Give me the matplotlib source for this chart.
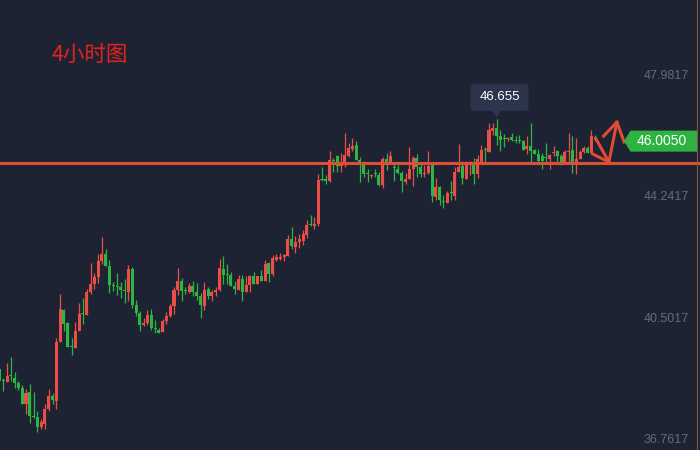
import numpy as np
import matplotlib
matplotlib.use('Agg')
import matplotlib.pyplot as plt
import matplotlib.transforms as mtransforms
from matplotlib.patches import Polygon, FancyBboxPatch

# 4h candles (red = up, green = down)
opens = [
    38.95, 38.60, 38.56, 38.74, 38.67, 38.52, 38.37, 37.88, 38.24, 37.49,
    37.47, 37.17, 37.26, 37.72, 38.12, 37.97, 39.78, 40.77, 40.37, 39.64,
    39.60, 40.12, 40.66, 40.62, 41.32, 41.57, 41.79, 42.28, 42.50, 42.13,
    41.52, 41.49, 41.48, 41.37, 41.32, 42.03, 40.92, 40.68, 40.31, 40.37,
    40.62, 40.19, 40.15, 40.09, 40.43, 40.58, 40.89, 41.38, 41.66, 41.36,
    41.32, 41.51, 41.32, 41.20, 40.89, 41.42, 41.20, 41.32, 41.38, 42.03,
    41.86, 41.85, 41.51, 41.38, 41.72, 41.32, 41.54, 41.82, 41.57, 41.82,
    41.66, 42.22, 41.88, 42.31, 42.34, 42.40, 42.43, 42.96, 42.71, 42.86,
    42.89, 43.08, 43.40, 43.36, 43.42, 44.79, 44.78, 44.76, 45.39, 45.52,
    45.21, 45.24, 45.52, 45.73, 45.85, 45.39, 45.24, 44.97, 44.90, 44.97,
    44.93, 44.62, 45.42, 45.33, 45.16, 45.12, 44.99, 44.71, 44.81, 45.11,
    45.45, 45.18, 44.96, 44.99, 45.24, 44.25, 44.56, 44.11, 44.07, 44.38,
    44.28, 45.02, 45.21, 44.81, 45.27, 45.24, 44.96, 45.29, 45.71, 45.65,
    46.30, 46.39, 46.13, 46.05, 46.03, 46.10, 46.00, 45.99, 45.98, 45.73,
    45.82, 45.70, 45.58, 45.51, 45.46, 45.42, 45.60, 45.67, 45.51, 45.34,
    45.64, 45.70, 45.33, 45.42, 45.64, 45.76, 45.61, 46.10,
]
highs = [
    38.97, 38.66, 39.13, 39.32, 38.86, 38.58, 38.46, 38.33, 38.49, 38.24,
    37.65, 37.41, 37.87, 38.33, 38.21, 39.91, 41.26, 40.80, 40.40, 39.91,
    40.40, 40.98, 41.14, 41.42, 42.22, 41.91, 42.50, 43.02, 42.65, 42.31,
    41.63, 41.91, 41.63, 41.72, 42.16, 42.09, 41.08, 40.74, 40.52, 40.77,
    40.80, 40.46, 40.21, 40.49, 40.71, 40.95, 41.48, 42.06, 41.76, 41.48,
    41.60, 41.66, 41.60, 41.29, 41.63, 41.48, 41.38, 41.48, 42.34, 42.43,
    42.19, 41.94, 41.66, 41.85, 41.85, 41.82, 41.85, 41.94, 41.83, 42.00,
    42.31, 42.25, 42.46, 42.49, 42.53, 42.49, 43.08, 43.33, 43.05, 43.11,
    43.23, 43.54, 43.70, 43.63, 44.96, 45.18, 44.93, 45.67, 45.45, 45.55,
    45.61, 46.22, 45.92, 46.07, 45.98, 45.48, 45.36, 45.11, 44.96, 45.11,
    45.02, 45.48, 45.61, 45.67, 45.33, 45.24, 45.05, 44.99, 45.79, 45.52,
    45.58, 45.27, 45.24, 45.67, 45.24, 44.84, 44.59, 44.31, 44.43, 44.74,
    45.18, 45.89, 45.36, 45.36, 45.36, 45.45, 45.55, 45.85, 45.80, 46.54,
    46.54, 46.655, 46.32, 46.19, 46.09, 46.22, 46.13, 46.16, 46.01, 46.13,
    46.53, 45.73, 45.73, 45.61, 45.92, 45.58, 45.82, 45.70, 45.58, 45.70,
    46.22, 46.13, 46.06, 45.70, 45.82, 45.82, 46.32, 46.16,
]
lows = [
    38.55, 38.28, 38.55, 38.58, 38.37, 38.30, 37.87, 37.56, 37.30, 37.45,
    37.01, 37.10, 37.10, 37.66, 37.88, 37.72, 39.78, 40.12, 39.62, 39.38,
    39.60, 40.12, 40.34, 40.62, 41.26, 41.42, 41.60, 42.19, 42.12, 41.29,
    41.35, 41.23, 41.14, 40.98, 41.05, 40.83, 40.58, 40.12, 40.27, 40.31,
    40.15, 40.06, 40.05, 40.09, 40.34, 40.56, 40.65, 41.23, 41.05, 41.26,
    41.29, 41.20, 41.08, 40.52, 40.77, 41.11, 41.05, 41.20, 41.35, 41.57,
    41.57, 41.50, 41.26, 41.38, 41.05, 41.32, 41.32, 41.56, 41.56, 41.65,
    41.66, 41.63, 41.82, 42.28, 42.31, 42.28, 42.43, 42.65, 42.53, 42.68,
    42.77, 42.99, 43.36, 43.27, 43.36, 44.74, 44.65, 44.71, 45.02, 45.02,
    45.02, 45.18, 45.48, 45.67, 45.39, 44.71, 44.87, 44.71, 44.84, 44.87,
    44.59, 44.53, 45.08, 45.30, 44.74, 44.96, 44.41, 44.65, 44.80, 44.59,
    44.87, 44.87, 44.87, 44.96, 44.10, 44.16, 44.00, 43.91, 44.06, 44.16,
    44.16, 45.02, 44.65, 44.80, 44.93, 44.65, 44.84, 45.29, 45.34, 45.65,
    46.16, 45.85, 45.67, 45.80, 45.98, 45.98, 45.92, 45.92, 45.70, 45.58,
    45.34, 45.58, 45.33, 45.13, 45.27, 45.13, 45.51, 45.33, 45.24, 45.33,
    45.33, 44.98, 44.95, 45.42, 45.61, 45.60, 45.60, 45.98,
]
closes = [
    38.58, 38.57, 38.73, 38.72, 38.52, 38.37, 37.88, 38.21, 37.50, 37.47,
    37.17, 37.32, 37.72, 38.12, 38.00, 39.78, 40.80, 40.34, 39.63, 39.62,
    40.12, 40.65, 40.64, 41.32, 41.57, 41.79, 42.28, 42.50, 42.13, 41.54,
    41.50, 41.47, 41.39, 41.35, 42.03, 40.92, 40.68, 40.31, 40.37, 40.62,
    40.21, 40.17, 40.06, 40.43, 40.58, 40.89, 41.38, 41.66, 41.35, 41.34,
    41.51, 41.32, 41.20, 40.92, 41.38, 41.20, 41.32, 41.38, 42.06, 41.85,
    41.84, 41.51, 41.42, 41.72, 41.32, 41.54, 41.82, 41.57, 41.82, 41.66,
    42.19, 41.88, 42.37, 42.40, 42.40, 42.46, 42.96, 42.74, 42.86, 42.96,
    43.11, 43.39, 43.38, 43.42, 44.78, 44.77, 44.76, 45.39, 45.36, 45.21,
    45.30, 45.55, 45.76, 45.82, 45.39, 45.30, 44.96, 44.95, 44.92, 44.95,
    44.62, 45.42, 45.33, 45.52, 45.14, 44.99, 44.74, 44.81, 45.11, 45.45,
    45.18, 44.96, 44.99, 45.21, 44.28, 44.56, 44.16, 44.09, 44.37, 44.36,
    45.02, 45.18, 44.84, 45.27, 45.33, 44.96, 45.42, 45.70, 45.69, 46.32,
    46.39, 46.13, 46.01, 46.03, 46.05, 46.01, 45.98, 45.97, 45.70, 45.82,
    45.67, 45.58, 45.36, 45.36, 45.44, 45.55, 45.62, 45.51, 45.34, 45.64,
    45.67, 45.31, 45.42, 45.64, 45.76, 45.61, 46.13, 46.005,
]

y_ticks = [36.7617, 40.5017, 44.2417, 47.9817]
support_level = 45.30
title_text = '4小时图'

# hand-drawn zigzag arrow (candle index, price)
arrow_main_x = [157.2, 160.6, 162.7]
arrow_main_y = [46.04, 45.33, 46.56]
arrow_tail_x = [156.3, 160.6]
arrow_tail_y = [45.58, 45.33]
arrow_head_x = [159.2, 162.7, 164.6]
arrow_head_y = [46.13, 46.56, 45.95]

BG = '#1e2334'
UP = '#ec4d46'
DOWN = '#2db441'
LINE = '#dc4f36'

o = np.array(opens)
h = np.array(highs)
l = np.array(lows)
c = np.array(closes)
x = np.arange(len(o))
colors = np.where(c >= o, UP, DOWN)

fig = plt.figure(figsize=(7, 4.5), dpi=100)
fig.patch.set_facecolor(BG)
ax = fig.add_axes([0, 0, 1, 1])
ax.set_facecolor(BG)
ax.set_xlim(0.15, 184.6)
ax.set_ylim(36.4535, 50.3243)
ax.axis('off')

# candles
ax.vlines(x, l, h, colors=colors, linewidth=0.9, zorder=2)
body_low = np.minimum(o, c)
body_h = np.maximum(np.abs(c - o), 0.035)
ax.bar(x, body_h, bottom=body_low, width=0.8, color=colors, linewidth=0, zorder=3)

# support line and right border
ax.axhline(support_level, color=LINE, linewidth=2.2, zorder=4)
ax.axvline(183.8, color='#8a5538', linewidth=0.8, zorder=4)

# arrow
for xs, ys in [(arrow_main_x, arrow_main_y), (arrow_tail_x, arrow_tail_y),
               (arrow_head_x, arrow_head_y)]:
    ax.plot(xs, ys, color='#e04b33', linewidth=2.2, zorder=5)

# price labels on the right
trans = mtransforms.blended_transform_factory(ax.transAxes, ax.transData)
for t in y_ticks:
    ax.text(689 / 700, t, f'{t:.4f}', transform=trans, ha='right', va='center',
            fontsize=9, color='#646b7c', family='Liberation Sans', zorder=6)

px = mtransforms.IdentityTransform()

# last price tag
_, ty = ax.transData.transform((0, c[-1]))
ty -= 1
tag = Polygon([(624, ty), (630.5, ty + 10.5), (697, ty + 10.5),
               (697, ty - 10.5), (630.5, ty - 10.5)],
              closed=True, facecolor='#2eb343', edgecolor='none',
              transform=px, zorder=7)
ax.add_patch(tag)
ax.text(662, ty, f'{c[-1]:.4f}', transform=px, ha='center', va='center',
        fontsize=10, color='white', family='Liberation Sans', zorder=8)

# high marker box
i_max = int(np.argmax(h))
hx, hy = ax.transData.transform((x[i_max], h[i_max]))
tip = hy + 1.6
box = FancyBboxPatch((hx - 26, tip + 6.6), 58, 26.7,
                     boxstyle='round,pad=0,rounding_size=3',
                     facecolor='#2c354c', edgecolor='none', transform=px, zorder=7)
ax.add_patch(box)
ax.add_patch(Polygon([(hx - 4.5, tip + 7), (hx + 4.5, tip + 7), (hx, tip)],
                     closed=True, facecolor='#2c354c', edgecolor='none',
                     transform=px, zorder=7))
ax.text(hx + 3, tip + 6.6 + 13.35, f'{h[i_max]:.3f}', transform=px,
        ha='center', va='center', fontsize=9.5, color='white',
        family='Liberation Sans', zorder=8)

# title
fig.text(52 / 700, 1 - 56 / 450, title_text, fontsize=15.5, color='#e8211a',
         family=['Noto Sans CJK SC', 'DejaVu Sans'], ha='left', va='center')

fig.savefig('out.png', dpi=100, facecolor=BG)
